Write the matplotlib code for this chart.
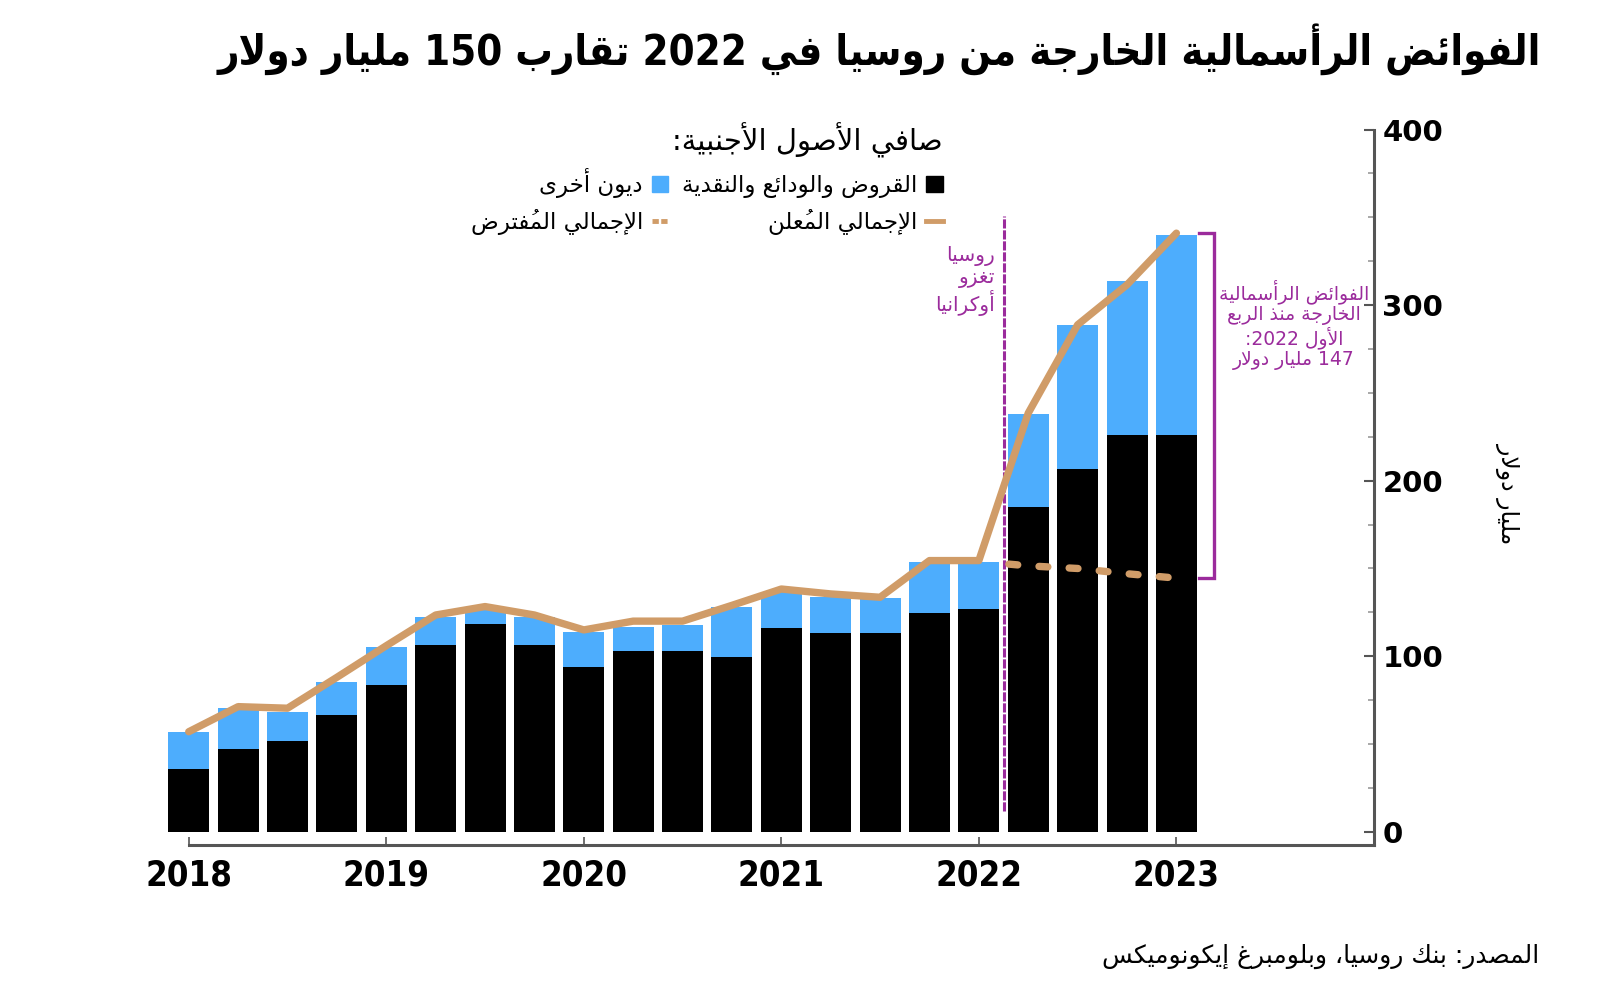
import numpy as np
import matplotlib
matplotlib.use("Agg")
from matplotlib import pyplot as plt
from matplotlib.patches import Patch, Rectangle
from matplotlib.lines import Line2D
from matplotlib.ticker import MultipleLocator

# quarterly data, 2018 Q1 .. 2023 Q1 (billion USD)
quarters = np.arange(21)
loans = [35.6, 47.0, 51.7, 66.7, 83.8, 106.6, 118.2, 106.6, 94.1, 103.2, 103.2,
         99.6, 116.3, 113.1, 113.1, 124.5, 126.8, 185.2, 206.6, 226.1, 226.1]
other_debt = [21.4, 23.4, 16.6, 18.5, 21.5, 16.0, 8.8, 16.0, 19.9, 13.3, 14.6,
              28.7, 20.5, 20.9, 19.9, 29.4, 27.1, 52.8, 82.2, 87.7, 113.9]
reported_total = [57.0, 71.3, 70.4, 88.0, 106.0, 123.5, 128.3, 123.5, 115.0, 120.0, 120.0,
                  129.0, 138.3, 135.5, 133.6, 154.5, 154.5, 238.5, 288.8, 311.6, 341.0]
hyp_quarters = [16, 17, 18, 19, 20]
hyp_total = [154.0, 151.5, 150.0, 147.0, 144.5]
invasion = 16.5
year_pos = [0, 4, 8, 12, 16, 20]
year_labels = ["2018", "2019", "2020", "2021", "2022", "2023"]

title = "الفوائض الرأسمالية الخارجة من روسيا في 2022 تقارب 150 مليار دولار"
legend_title = "صافي الأصول الأجنبية:"
lab_loans = "القروض والودائع والنقدية"
lab_other = "ديون أخرى"
lab_reported = "الإجمالي المُعلن"
lab_hyp = "الإجمالي المُفترض"
invasion_note = "روسيا\nتغزو\nأوكرانيا"
outflow_note = "الفوائض الرأسمالية\nالخارجة منذ الربع\nالأول 2022:\n147 مليار دولار"
ylabel = "مليار دولار"
source = "المصدر: بنك روسيا، وبلومبرغ إيكونوميكس"

BLUE = "#4dadfd"
TAN = "#d09c68"
PURPLE = "#9b2b9c"
AXIS = "#555555"

# --- minimal arabic shaping (matplotlib has no complex text layout) ---
DUAL = {'ئ': 0xFE89, 'ب': 0xFE8F, 'ت': 0xFE95, 'ث': 0xFE99, 'ج': 0xFE9D, 'ح': 0xFEA1,
        'خ': 0xFEA5, 'س': 0xFEB1, 'ش': 0xFEB5, 'ص': 0xFEB9, 'ض': 0xFEBD, 'ط': 0xFEC1,
        'ظ': 0xFEC5, 'ع': 0xFEC9, 'غ': 0xFECD, 'ف': 0xFED1, 'ق': 0xFED5, 'ك': 0xFED9,
        'ل': 0xFEDD, 'م': 0xFEE1, 'ن': 0xFEE5, 'ه': 0xFEE9, 'ي': 0xFEF1}
RIGHT = {'آ': 0xFE81, 'أ': 0xFE83, 'ؤ': 0xFE85, 'إ': 0xFE87, 'ا': 0xFE8D, 'ة': 0xFE93,
         'د': 0xFEA9, 'ذ': 0xFEAB, 'ر': 0xFEAD, 'ز': 0xFEAF, 'و': 0xFEED, 'ى': 0xFEEF}
LAMALEF = {'آ': 0xFEF5, 'أ': 0xFEF7, 'إ': 0xFEF9, 'ا': 0xFEFB}


def jtype(b):
    if b in DUAL:
        return 'D'
    if b in RIGHT or b.startswith('LA'):
        return 'R'
    if b == 'ء':
        return 'U'
    return None


def shape_line(line):
    cl = []
    for ch in line:
        if '\u064b' <= ch <= '\u0652' and cl:
            cl[-1][1] += ch
        else:
            cl.append([ch, ''])
    merged = []
    i = 0
    while i < len(cl):
        b, m = cl[i]
        if b == 'ل' and i + 1 < len(cl) and cl[i + 1][0] in LAMALEF:
            merged.append(['LA' + cl[i + 1][0], m + cl[i + 1][1]])
            i += 2
        else:
            merged.append([b, m])
            i += 1
    out = []
    for i, (b, m) in enumerate(merged):
        t = jtype(b)
        prev = jtype(merged[i - 1][0]) if i > 0 else None
        nxt = jtype(merged[i + 1][0]) if i + 1 < len(merged) else None
        jp = t in ('D', 'R') and prev == 'D'
        jn = t == 'D' and nxt in ('D', 'R')
        if b.startswith('LA'):
            g = chr(LAMALEF[b[2]] + (1 if jp else 0))
        elif t == 'D':
            g = chr(DUAL[b] + (3 if (jp and jn) else 2 if jn else 1 if jp else 0))
        elif t == 'R':
            g = chr(RIGHT[b] + (1 if jp else 0))
        elif t == 'U':
            g = '\ufe80'
        else:
            g = b
        # mark goes first so that it is drawn over the following (its own) glyph
        out.append((m + g, t is None and (b.isdigit() or b == '.')))
    runs = []
    for g, ltr in out:
        if runs and runs[-1][0] == ltr:
            runs[-1][1].append(g)
        else:
            runs.append([ltr, [g]])
    vis = ''
    for ltr, gs in reversed(runs):
        vis += ''.join(gs if ltr else reversed(gs))
    return vis


def ar(text):
    return '\n'.join(shape_line(l) for l in text.split('\n'))


W, H = 1600, 990


def fx(x):
    return x / W


def fy(y):
    return 1 - y / H


fig = plt.figure(figsize=(16, 9.9), dpi=100)
ax = fig.add_axes([0.0871, 0.1465, 0.7716, 0.7226])

ax.bar(quarters, loans, width=0.83, color="black", zorder=2)
ax.bar(quarters, other_debt, bottom=loans, width=0.83, color=BLUE, zorder=2)

ax.vlines(invasion, 12, 351, colors=PURPLE, linestyles=(0, (3, 0.6)), lw=2.2, zorder=3)

ax.plot(quarters, reported_total, color=TAN, lw=5.3, solid_capstyle="round", zorder=4)
hyp_line, = ax.plot(hyp_quarters, hyp_total, color=TAN, lw=5.3, dashes=(1.2, 2.9),
                    dash_capstyle="round", zorder=4)
clip = Rectangle((invasion, -50), 10, 600, transform=ax.transData)
hyp_line.set_clip_path(clip)

# bracket for outflows since Q1 2022
bx = quarters[-1] + 0.76
ax.plot([bx - 0.3, bx, bx, bx - 0.3],
        [reported_total[-1], reported_total[-1], hyp_total[-1], hyp_total[-1]],
        color=PURPLE, lw=2.4, solid_joinstyle="miter", clip_on=False, zorder=3)

ax.set_xlim(-1, 24)
ax.set_ylim(-7.5, 400)
for s in ["top", "left"]:
    ax.spines[s].set_visible(False)
ax.spines["bottom"].set_bounds(0, 24)
ax.spines["right"].set_bounds(-7.5, 400)
for s in ["bottom", "right"]:
    ax.spines[s].set_color(AXIS)
    ax.spines[s].set_linewidth(2.2)

ax.yaxis.tick_right()
ax.set_yticks([0, 100, 200, 300, 400])
ax.yaxis.set_minor_locator(MultipleLocator(25))
ax.tick_params(axis="y", which="major", direction="in", length=7, width=1.5,
               color=AXIS, pad=6, labelsize=21)
ax.tick_params(axis="y", which="minor", direction="in", length=4, width=1.2, color="#999999")
for t in ax.get_yticklabels():
    t.set_fontweight("bold")

ax.set_xticks(year_pos, year_labels)
ax.tick_params(axis="x", direction="in", length=6, width=1.2, color=AXIS, pad=10, labelsize=25)
for t in ax.get_xticklabels():
    t.set_fontweight("bold")
    t.set_fontstretch("condensed")

# title, source, axis label
fig.text(fx(1541), fy(50), ar(title), ha="right", va="center", fontsize=30,
         fontweight="bold", fontstretch="condensed")
fig.text(fx(1539), fy(956), ar(source), ha="right", va="center", fontsize=18)
fig.text(fx(1508), fy(493), ar(ylabel), ha="center", va="center", fontsize=17, rotation=-90)

# annotations
fig.text(fx(995), fy(246), ar(invasion_note), ha="right", va="top", fontsize=14.5,
         color=PURPLE, linespacing=1.1)
fig.text(fx(1294), fy(279), ar(outflow_note), ha="center", va="top", fontsize=13.5,
         color=PURPLE, linespacing=1.08, multialignment="center")

# legend (right-to-left)
handles = [Patch(color=BLUE), Line2D([], [], color=TAN, lw=3.5, dashes=(1.3, 0.5)),
           Patch(color="black"), Line2D([], [], color=TAN, lw=3.5)]
labels = [ar(lab_other), ar(lab_hyp), ar(lab_loans), ar(lab_reported)]
leg = fig.legend(handles, labels, ncol=2, markerfirst=False, frameon=False,
                 loc="upper right", bbox_to_anchor=(fx(954), fy(111)),
                 fontsize=16.5, handlelength=0.7, handleheight=0.7, handletextpad=0.4,
                 columnspacing=0.6, labelspacing=0.45, borderpad=0,
                 title=ar(legend_title), title_fontsize=21, alignment="right")

fig.savefig("out.png", dpi=100)
